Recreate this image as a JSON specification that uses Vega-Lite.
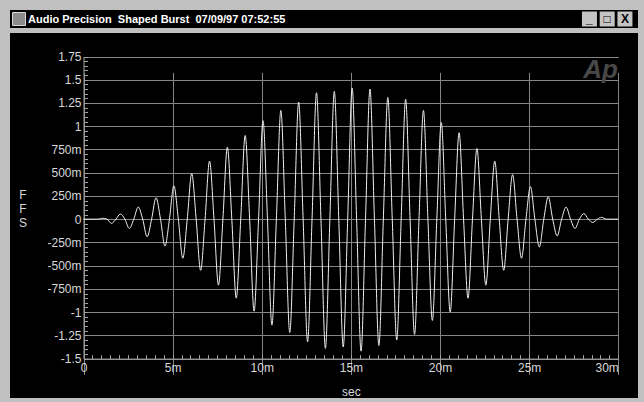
{
  "$schema": "https://vega.github.io/schema/vega-lite/v6.json",
  "background": "#c0c0c0",
  "padding": {"left": 10, "top": 10, "right": 6, "bottom": 4},
  "spacing": 5,
  "config": {
    "font": "Liberation Sans",
    "view": {"fill": "#000000", "stroke": null}
  },
  "vconcat": [
    {
      "spacing": 0,
      "hconcat": [
        {
          "width": 18,
          "height": 18,
          "data": {"values": [{"w": "icon"}]},
          "layer": [
            {
              "mark": {"type": "rect", "color": "#000000"},
              "encoding": {"x": {"value": 0}, "x2": {"value": "width"}, "y": {"value": 0}, "y2": {"value": "height"}}
            },
            {
              "mark": {"type": "square", "size": 169, "color": "#8c8c8c", "opacity": 1, "stroke": "#d8d8d8", "strokeWidth": 1},
              "encoding": {}
            }
          ]
        },
        {
          "width": 552,
          "height": 18,
          "title": {
            "text": "Audio Precision\u00a0 Shaped Burst\u00a0 07/09/97 07:52:55",
            "anchor": "start",
            "orient": "top",
            "offset": -24,
            "dx": 0,
            "baseline": "alphabetic",
            "color": "#ffffff",
            "font": "Liberation Sans",
            "fontSize": 11,
            "fontWeight": "bold"
          },
          "data": {"values": [{}]},
          "mark": {"type": "rect", "color": "#000000"},
          "encoding": {"x": {"value": 0}, "x2": {"value": "width"}, "y": {"value": 0}, "y2": {"value": "height"}}
        },
        {
          "width": 58,
          "height": 18,
          "data": {"values": [{"b": "min", "g": "_"}, {"b": "max", "g": "□"}, {"b": "close", "g": "X"}]},
          "layer": [
            {
              "mark": {"type": "rect", "color": "#000000"},
              "encoding": {"x": {"value": 0}, "x2": {"value": "width"}, "y": {"value": 0}, "y2": {"value": "height"}}
            },
            {
              "mark": {"type": "square", "size": 225, "color": "#c4c4c4", "opacity": 1},
              "encoding": {
                "x": {"field": "b", "type": "nominal", "scale": {"type": "point", "domain": ["min", "max", "close"], "padding": 0.634, "align": 0.42}, "axis": null}
              }
            },
            {
              "mark": {"type": "text", "color": "#000000", "font": "Liberation Sans", "fontSize": 12, "fontWeight": "bold", "baseline": "middle", "align": "center"},
              "encoding": {
                "x": {"field": "b", "type": "nominal", "scale": {"type": "point", "domain": ["min", "max", "close"], "padding": 0.634, "align": 0.42}, "axis": null},
                "text": {"field": "g"}
              }
            }
          ]
        }
      ]
    },
    {
      "width": 628,
      "height": 365,
      "resolve": {"axis": {"x": "independent", "y": "independent"}},
      "layer": [
        {
          "data": {"values": [
            {"t":0,"v":0},{"t":0.82,"v":0},
            {"t":1.07,"v":0.01},{"t":1.32,"v":0},{"t":1.57,"v":-0.045},{"t":1.82,"v":0},
            {"t":2.07,"v":0.055},{"t":2.32,"v":0},{"t":2.57,"v":-0.10},{"t":2.82,"v":0},
            {"t":3.07,"v":0.13},{"t":3.32,"v":0},{"t":3.57,"v":-0.19},{"t":3.82,"v":0},
            {"t":4.07,"v":0.23},{"t":4.32,"v":0},{"t":4.57,"v":-0.29},{"t":4.82,"v":0},
            {"t":5.07,"v":0.36},{"t":5.32,"v":0},{"t":5.57,"v":-0.42},{"t":5.82,"v":0},
            {"t":6.07,"v":0.49},{"t":6.32,"v":0},{"t":6.57,"v":-0.55},{"t":6.82,"v":0},
            {"t":7.07,"v":0.625},{"t":7.32,"v":0},{"t":7.57,"v":-0.71},{"t":7.82,"v":0},
            {"t":8.07,"v":0.775},{"t":8.32,"v":0},{"t":8.57,"v":-0.85},{"t":8.82,"v":0},
            {"t":9.07,"v":0.9},{"t":9.32,"v":0},{"t":9.57,"v":-0.99},{"t":9.82,"v":0},
            {"t":10.07,"v":1.06},{"t":10.32,"v":0},{"t":10.57,"v":-1.14},{"t":10.82,"v":0},
            {"t":11.07,"v":1.17},{"t":11.32,"v":0},{"t":11.57,"v":-1.22},{"t":11.82,"v":0},
            {"t":12.07,"v":1.26},{"t":12.32,"v":0},{"t":12.57,"v":-1.32},{"t":12.82,"v":0},
            {"t":13.07,"v":1.36},{"t":13.32,"v":0},{"t":13.57,"v":-1.39},{"t":13.82,"v":0},
            {"t":14.07,"v":1.375},{"t":14.32,"v":0},{"t":14.57,"v":-1.375},{"t":14.82,"v":0},
            {"t":15.07,"v":1.41},{"t":15.32,"v":0},{"t":15.57,"v":-1.42},{"t":15.82,"v":0},
            {"t":16.07,"v":1.40},{"t":16.32,"v":0},{"t":16.57,"v":-1.36},{"t":16.82,"v":0},
            {"t":17.07,"v":1.31},{"t":17.32,"v":0},{"t":17.57,"v":-1.30},{"t":17.82,"v":0},
            {"t":18.07,"v":1.29},{"t":18.32,"v":0},{"t":18.57,"v":-1.24},{"t":18.82,"v":0},
            {"t":19.07,"v":1.17},{"t":19.32,"v":0},{"t":19.57,"v":-1.09},{"t":19.82,"v":0},
            {"t":20.07,"v":1.04},{"t":20.32,"v":0},{"t":20.57,"v":-1.0},{"t":20.82,"v":0},
            {"t":21.07,"v":0.93},{"t":21.32,"v":0},{"t":21.57,"v":-0.85},{"t":21.82,"v":0},
            {"t":22.07,"v":0.76},{"t":22.32,"v":0},{"t":22.57,"v":-0.71},{"t":22.82,"v":0},
            {"t":23.07,"v":0.625},{"t":23.32,"v":0},{"t":23.57,"v":-0.55},{"t":23.82,"v":0},
            {"t":24.07,"v":0.48},{"t":24.32,"v":0},{"t":24.57,"v":-0.42},{"t":24.82,"v":0},
            {"t":25.07,"v":0.35},{"t":25.32,"v":0},{"t":25.57,"v":-0.30},{"t":25.82,"v":0},
            {"t":26.07,"v":0.24},{"t":26.32,"v":0},{"t":26.57,"v":-0.18},{"t":26.82,"v":0},
            {"t":27.07,"v":0.13},{"t":27.32,"v":0},{"t":27.57,"v":-0.10},{"t":27.82,"v":0},
            {"t":28.07,"v":0.06},{"t":28.32,"v":0},{"t":28.57,"v":-0.035},{"t":28.82,"v":0},
            {"t":29.07,"v":0.02},{"t":29.32,"v":0},{"t":30,"v":0}
          ]},
          "mark": {"type": "line", "interpolate": "monotone", "color": "#f0f0f0", "strokeWidth": 1},
          "encoding": {
            "x": {
              "field": "t", "type": "quantitative",
              "scale": {"domain": [0, 30], "range": [73.5, 608.3], "nice": false, "zero": false},
              "axis": {
                "orient": "bottom",
                "offset": -39.4,
                "values": [0,0.5,1,1.5,2,2.5,3,3.5,4,4.5,5,5.5,6,6.5,7,7.5,8,8.5,9,9.5,10,10.5,11,11.5,12,12.5,13,13.5,14,14.5,15,15.5,16,16.5,17,17.5,18,18.5,19,19.5,20,20.5,21,21.5,22,22.5,23,23.5,24,24.5,25,25.5,26,26.5,27,27.5,28,28.5,29,29.5,30],
                "grid": true,
                "gridColor": "#858585",
                "gridWidth": 1,
                "gridOpacity": {"condition": {"test": "datum.value % 5 === 0", "value": 1}, "value": 0},
                "domainColor": "#a0a0a0",
                "tickColor": "#a0a0a0",
                "tickSize": -4,
                "labelExpr": "datum.value % 5 === 0 ? (datum.value === 0 ? '0' : datum.value + 'm') : ''",
                "labelAlign": {"condition": {"test": "datum.value === 30", "value": "right"}, "value": "center"},
                "labelFlush": false,
                "labelOverlap": false,
                "labelPadding": 8,
                "labelColor": "#d8d8d8",
                "labelFont": "Liberation Sans",
                "labelFontSize": 12,
                "title": "sec",
                "titleColor": "#d8d8d8",
                "titleFont": "Liberation Sans",
                "titleFontSize": 12,
                "titleFontWeight": "normal",
                "titleBaseline": "alphabetic",
                "titleAlign": "center",
                "titleY": 37
              }
            },
            "y": {
              "field": "v", "type": "quantitative",
              "scale": {"domain": [-1.5, 1.75], "range": [325.6, 23.5], "nice": false, "zero": false},
              "axis": {
                "orient": "left",
                "offset": -73.5,
                "values": [-1.5,-1.45,-1.4,-1.35,-1.3,-1.25,-1.2,-1.15,-1.1,-1.05,-1,-0.95,-0.9,-0.85,-0.8,-0.75,-0.7,-0.65,-0.6,-0.55,-0.5,-0.45,-0.4,-0.35,-0.3,-0.25,-0.2,-0.15,-0.1,-0.05,0,0.05,0.1,0.15,0.2,0.25,0.3,0.35,0.4,0.45,0.5,0.55,0.6,0.65,0.7,0.75,0.8,0.85,0.9,0.95,1,1.05,1.1,1.15,1.2,1.25,1.3,1.35,1.4,1.45,1.5,1.55,1.6,1.65,1.7,1.75],
                "grid": true,
                "gridColor": "#858585",
                "gridWidth": 1,
                "gridOpacity": {"condition": {"test": "round(datum.value * 100) % 25 === 0", "value": 1}, "value": 0},
                "domainColor": "#a0a0a0",
                "tickColor": "#a0a0a0",
                "tickSize": -4,
                "labelExpr": "round(datum.value * 100) % 25 !== 0 ? '' : (datum.value === 0 ? '0' : (abs(datum.value) < 1 ? (datum.value < 0 ? '-' : '') + round(abs(datum.value) * 1000) + 'm' : (datum.value < 0 ? '-' : '') + abs(datum.value)))",
                "labelFlush": false,
                "labelOverlap": false,
                "labelPadding": 6.5,
                "labelColor": "#d8d8d8",
                "labelFont": "Liberation Sans",
                "labelFontSize": 12,
                "title": ["F", "F", "S"],
                "titleAngle": 0,
                "titleX": -61,
                "titleY": 161,
                "titleAlign": "center",
                "titleBaseline": "middle",
                "titleLineHeight": 14.3,
                "titleColor": "#d8d8d8",
                "titleFont": "Liberation Sans",
                "titleFontSize": 12,
                "titleFontWeight": "normal"
              }
            }
          }
        },
        {
          "data": {"values": [{}]},
          "mark": {"type": "text", "text": "Ap", "font": "Liberation Sans", "fontSize": 26, "fontStyle": "italic", "fontWeight": "bold", "color": "#484848", "align": "center", "baseline": "alphabetic"},
          "encoding": {
            "x": {"datum": 29, "type": "quantitative", "axis": null},
            "y": {"datum": 1.52, "type": "quantitative", "axis": null}
          }
        }
      ]
    }
  ]
}
